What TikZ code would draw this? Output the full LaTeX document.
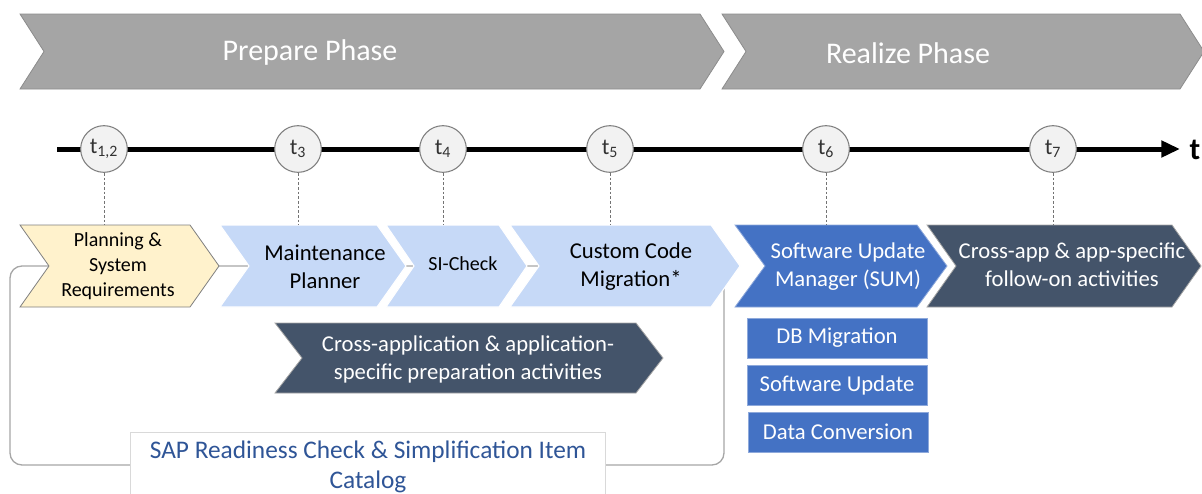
\documentclass[tikz,border=0pt]{standalone}
\usepackage{fontspec}
\setmainfont{Carlito}
\usetikzlibrary{arrows.meta}
\definecolor{phasegray}{HTML}{A5A5A5}
\definecolor{phaseedge}{HTML}{8C8C8C}
\definecolor{circfill}{HTML}{F2F2F2}
\definecolor{circedge}{HTML}{7F7F7F}
\definecolor{planyellow}{HTML}{FFF2CC}
\definecolor{lightblue}{HTML}{C6D9F7}
\definecolor{sumblue}{HTML}{4472C4}
\definecolor{sumedge}{HTML}{8EA9DB}
\definecolor{slate}{HTML}{44546A}
\definecolor{sapblue}{HTML}{2F5597}
\newcommand{\chevron}[6]{\filldraw[#1] (#2,#4) -- (#3,#4) -- ({#3+#6},{(#4+#5)/2}) -- (#3,#5) -- (#2,#5) -- ({#2+#6},{(#4+#5)/2}) -- cycle;}
\tikzstyle{phase}=[fill=phasegray, draw=phaseedge, line width=0.6pt]
\tikzstyle{phasetext}=[text=white, font=\fontsize{22.5}{27}\selectfont]
\tikzstyle{yellowchev}=[fill=planyellow, draw=circedge, line width=0.6pt]
\tikzstyle{lightchev}=[fill=lightblue, draw=white, line width=0.8pt]
\tikzstyle{sumchev}=[fill=sumblue, draw=sumedge, line width=0.6pt]
\tikzstyle{darkchev}=[fill=slate, draw=black!35, line width=0.6pt]
\tikzstyle{steptext}=[align=center, font=\fontsize{17}{21}\selectfont]
\tikzstyle{smalltext}=[align=center, font=\fontsize{15}{18.75}\selectfont]
\tikzstyle{tpoint}=[circle, draw=circedge, fill=circfill, line width=0.8pt, minimum size=35pt, inner sep=0pt, text=black!80, font=\fontsize{17}{20}\selectfont]
\tikzstyle{guide}=[draw=black!55, line width=0.6pt, dash pattern=on 2pt off 1.5pt]
\tikzstyle{subbox}=[rectangle, fill=sumblue, draw=sumedge, line width=0.6pt, text=white, minimum width=135pt, minimum height=30pt, font=\fontsize{17}{21}\selectfont]
\tikzstyle{sapbox}=[rectangle, fill=white, draw=black!15, line width=0.6pt, text=sapblue, align=center, minimum width=356pt, minimum height=52pt, font=\fontsize{19}{22.5}\selectfont]

\begin{document}
\begin{tikzpicture}[x=0.75pt, y=-0.75pt]
    \useasboundingbox (0,0) rectangle (1202,493);
    % phases
    \chevron{phase}{20}{700}{14}{89}{24}
    \chevron{phase}{722}{1180}{14}{89}{24}
    \node[phasetext] (prep) at (310,52) {Prepare Phase};
    \node[phasetext] (real) at (908,53) {Realize Phase};
    % bracket behind the steps
    \draw[draw=black!35, line width=1pt, rounded corners=9pt] (10,266) rectangle (724,465);
    % steps
    \chevron{yellowchev}{20}{190}{225}{307}{29}
    \chevron{lightchev}{220}{377}{225}{307}{29}
    \chevron{lightchev}{386}{499}{225}{307}{28}
    \chevron{lightchev}{510}{711}{225}{307}{29}
    \chevron{sumchev}{735}{917}{225}{307}{30}
    \chevron{darkchev}{927}{1172}{225}{307}{29}
    \chevron{darkchev}{275}{636}{323}{393}{27}
    \node[smalltext] (plan) at (118,266) {Planning \&\\System\\Requirements};
    \node[steptext] (mp) at (325,267) {Maintenance\\Planner};
    \node[smalltext] (sic) at (463,264) {SI-Check};
    \node[steptext] (ccm) at (631,267) {Custom Code\\Migration*};
    \node[steptext, text=white] (sum) at (848,267) {Software Update\\Manager (SUM)};
    \node[steptext, text=white] (fol) at (1072,265) {Cross-app \& app-specific\\follow-on activities};
    \node[steptext, text=white] (pact) at (468,359) {Cross-application \& application-\\specific preparation activities};
    % SUM parts
    \node[subbox] (dbm) at (837,338) {DB Migration};
    \node[subbox] (swu) at (837,385) {Software Update};
    \node[subbox] (dcv) at (838,432) {Data Conversion};
    % readiness check
    \node[sapbox] (sap) at (368,467) {SAP Readiness Check \& Simplification Item\\Catalog};
    % time line
    \coordinate (tl0) at (57,149);
    \coordinate (tl1) at (1180,149);
    \coordinate (rowtop) at (0,225);
    \draw[line width=3.75pt, -{Triangle[length=14pt, width=12pt]}] (tl0) -- (tl1);
    \node[font=\fontsize{23}{27}\bfseries] (tlab) at (1195,150) {t};
    \node[tpoint] (c12) at (104,149) {t\textsubscript{1,2}};
    \node[tpoint] (c3) at (298,149) {t\textsubscript{3}};
    \node[tpoint] (c4) at (443,149) {t\textsubscript{4}};
    \node[tpoint] (c5) at (610,149) {t\textsubscript{5}};
    \node[tpoint] (c6) at (826,149) {t\textsubscript{6}};
    \node[tpoint] (c7) at (1053,149) {t\textsubscript{7}};
    \draw[guide] (c12.south) -- (c12.south |- rowtop);
    \draw[guide] (c3.south) -- (c3.south |- rowtop);
    \draw[guide] (c4.south) -- (c4.south |- rowtop);
    \draw[guide] (c5.south) -- (c5.south |- rowtop);
    \draw[guide] (c6.south) -- (c6.south |- rowtop);
    \draw[guide] (c7.south) -- (c7.south |- rowtop);
\end{tikzpicture}
\end{document}
